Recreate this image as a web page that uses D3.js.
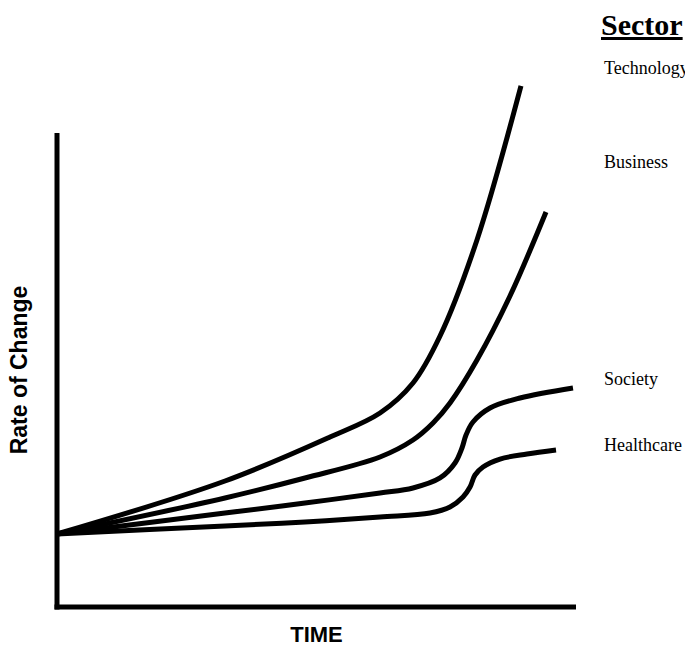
<!DOCTYPE html>
<html>
<head>
<meta charset="utf-8">
<script src="https://cdn.jsdelivr.net/npm/d3@7"></script>
<style>
  html, body { margin: 0; padding: 0; background: #fff; overflow: hidden; }
  svg { display: block; }
</style>
</head>
<body>
<svg id="chart" width="685" height="646"></svg>
<script>
// ---- Data (time 0..100, rate 0..100 on the axes' scale) ----
const sectors = ["Technology", "Business", "Society", "Healthcare"];

const technology = [
  [0, 15.4], [32.37, 26.58], [52.6, 35.86], [62.24, 40.93], [68.59, 47.26],
  [73.8, 57.17], [80.92, 77.43], [89.4, 109.92]
];
const business = [
  [0, 15.4], [32.37, 23.0], [47.78, 27.22], [62.24, 31.65], [68.59, 35.23],
  [72.45, 38.82], [75.72, 43.04], [80.92, 52.11], [87.28, 65.61], [94.22, 83.33]
];
const society = [
  [0, 15.4], [32.37, 19.83], [47.78, 21.94], [62.24, 24.05], [68.59, 25.11],
  [73.8, 27.22], [76.69, 30.38], [78.03, 33.54], [78.81, 36.29], [80.15, 39.03],
  [83.43, 41.98], [89.21, 44.09], [99.42, 46.2]
];
const healthcare = [
  [0, 15.4], [32.37, 17.09], [47.78, 17.93], [62.24, 18.99], [71.87, 19.83],
  [75.72, 21.1], [78.23, 23.21], [79.58, 25.32], [80.54, 27.85], [82.08, 29.54],
  [85.36, 31.22], [90.56, 32.28], [96.15, 33.12]
];

const legendTitle = "Sector";
const xLabel = "TIME";
const yLabel = "Rate of Change";

// ---- Layout ----
const svg = d3.select("#chart");
const x = d3.scaleLinear().domain([0, 100]).range([57, 576]);
const y = d3.scaleLinear().domain([0, 100]).range([607, 133]);

// Axes (plain thick lines, no ticks)
const xAxis = d3.axisBottom(x).tickValues([]).tickSizeOuter(0);
const yAxis = d3.axisLeft(y).tickValues([]).tickSizeOuter(0);

svg.append("g")
  .attr("transform", `translate(0,${y(0)})`)
  .call(xAxis)
  .call(g => g.select(".domain")
    .attr("stroke", "#000").attr("stroke-width", 5)
    .attr("d", `M${x(0) - 2.5},0H${x(100)}`));

svg.append("g")
  .attr("transform", `translate(${x(0)},0)`)
  .call(yAxis)
  .call(g => g.select(".domain")
    .attr("stroke", "#000").attr("stroke-width", 5)
    .attr("d", `M0,${y(100)}V${y(0) + 2.5}`));

// Curves
const line = d3.line()
  .x(d => x(d[0]))
  .y(d => y(d[1]))
  .curve(d3.curveCatmullRom.alpha(0.5));

[technology, business, society, healthcare].forEach(series => {
  svg.append("path")
    .datum(series)
    .attr("d", line)
    .attr("fill", "none")
    .attr("stroke", "#000")
    .attr("stroke-width", 5)
    .attr("stroke-linecap", "butt")
    .attr("stroke-linejoin", "round");
});

// Axis titles
svg.append("text")
  .attr("x", (x(0) + x(100)) / 2)
  .attr("y", 642)
  .attr("text-anchor", "middle")
  .style("font-family", "'Liberation Sans', Arial, sans-serif")
  .style("font-weight", "bold")
  .style("font-size", "22px")
  .text(xLabel);

svg.append("text")
  .attr("transform", `translate(27,${(y(0) + y(100)) / 2}) rotate(-90)`)
  .attr("text-anchor", "middle")
  .style("font-family", "'Liberation Sans', Arial, sans-serif")
  .style("font-weight", "bold")
  .style("font-size", "23px")
  .text(yLabel);

// Legend
svg.append("text")
  .attr("x", 601)
  .attr("y", 35)
  .style("font-family", "'Liberation Serif', 'Times New Roman', serif")
  .style("font-weight", "bold")
  .style("font-size", "30px")
  .style("text-decoration", "underline")
  .text(legendTitle);

const legendY = [74, 168, 385, 451];
svg.selectAll("text.legend")
  .data(sectors)
  .join("text")
  .attr("class", "legend")
  .attr("x", 604)
  .attr("y", (d, i) => legendY[i])
  .style("font-family", "'Liberation Serif', 'Times New Roman', serif")
  .style("font-size", "18px")
  .text(d => d);
</script>
</body>
</html>
